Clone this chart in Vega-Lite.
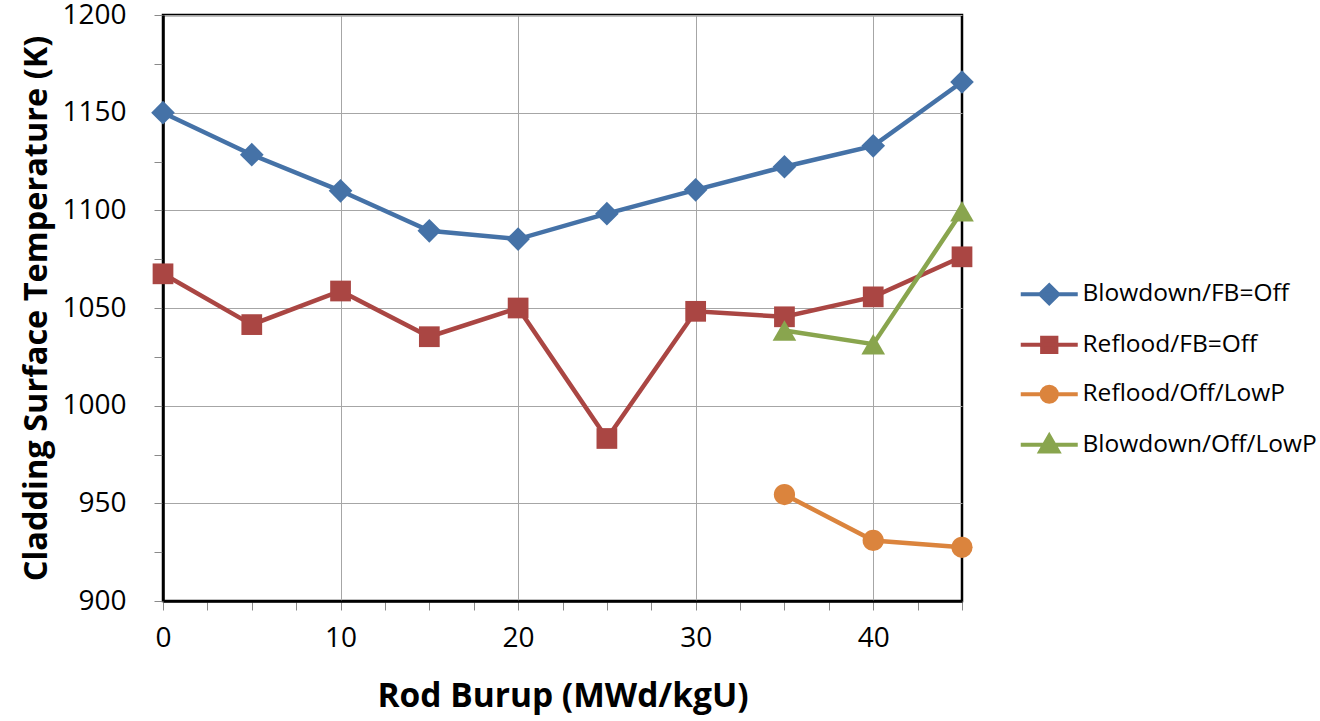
{
  "$schema": "https://vega.github.io/schema/vega-lite/v6.json",
  "autosize": {"type": "none"},
  "padding": {"left": 163, "top": 15, "right": 358, "bottom": 120},
  "width": 799,
  "height": 586,
  "config": {
    "font": "Open Sans",
    "view": {"stroke": "#000000", "strokeWidth": 2.5},
    "axis": {
      "labelFont": "Open Sans",
      "titleFont": "Open Sans",
      "labelColor": "#000000",
      "titleColor": "#000000",
      "labelFontSize": 28,
      "titleFontWeight": "bold",
      "domainColor": "#000000",
      "domainWidth": 2.5,
      "tickColor": "#8a8a8a",
      "tickWidth": 1,
      "tickSize": 9,
      "gridColor": "#a6a6a6",
      "gridWidth": 1
    }
  },
  "data": {
    "values": [
      {"series": "Blowdown/FB=Off", "burnup": 0, "temp": 1150},
      {"series": "Blowdown/FB=Off", "burnup": 5, "temp": 1128.5},
      {"series": "Blowdown/FB=Off", "burnup": 10, "temp": 1110},
      {"series": "Blowdown/FB=Off", "burnup": 15, "temp": 1089.5},
      {"series": "Blowdown/FB=Off", "burnup": 20, "temp": 1085.3},
      {"series": "Blowdown/FB=Off", "burnup": 25, "temp": 1098.3},
      {"series": "Blowdown/FB=Off", "burnup": 30, "temp": 1110.5},
      {"series": "Blowdown/FB=Off", "burnup": 35, "temp": 1122.3},
      {"series": "Blowdown/FB=Off", "burnup": 40, "temp": 1133},
      {"series": "Blowdown/FB=Off", "burnup": 45, "temp": 1165.7},
      {"series": "Reflood/FB=Off", "burnup": 0, "temp": 1067.5},
      {"series": "Reflood/FB=Off", "burnup": 5, "temp": 1041.5},
      {"series": "Reflood/FB=Off", "burnup": 10, "temp": 1058.7},
      {"series": "Reflood/FB=Off", "burnup": 15, "temp": 1035.3},
      {"series": "Reflood/FB=Off", "burnup": 20, "temp": 1050},
      {"series": "Reflood/FB=Off", "burnup": 25, "temp": 983.2},
      {"series": "Reflood/FB=Off", "burnup": 30, "temp": 1048.3},
      {"series": "Reflood/FB=Off", "burnup": 35, "temp": 1045.5},
      {"series": "Reflood/FB=Off", "burnup": 40, "temp": 1055.7},
      {"series": "Reflood/FB=Off", "burnup": 45, "temp": 1076.2},
      {"series": "Reflood/Off/LowP", "burnup": 35, "temp": 954.5},
      {"series": "Reflood/Off/LowP", "burnup": 40, "temp": 931},
      {"series": "Reflood/Off/LowP", "burnup": 45, "temp": 927.5},
      {"series": "Blowdown/Off/LowP", "burnup": 35, "temp": 1038.5},
      {"series": "Blowdown/Off/LowP", "burnup": 40, "temp": 1031.5},
      {"series": "Blowdown/Off/LowP", "burnup": 45, "temp": 1099.5}
    ]
  },
  "encoding": {
    "x": {
      "field": "burnup",
      "type": "quantitative",
      "scale": {"domain": [0, 45], "nice": false, "zero": false},
      "axis": {
        "title": "Rod Burup (MWd/kgU)",
        "titleFontSize": 33.5,
        "format": "d",
        "values": [0, 2.5, 5, 7.5, 10, 12.5, 15, 17.5, 20, 22.5, 25, 27.5, 30, 32.5, 35, 37.5, 40, 42.5, 45],
        "labelExpr": "datum.value % 10 === 0 && datum.value < 45 ? datum.label : ''",
        "gridOpacity": {"condition": {"test": "datum.value % 10 === 0", "value": 1}, "value": 0},
        "labelPadding": 14,
        "titlePadding": 28,
        "labelFlush": false
      }
    },
    "y": {
      "field": "temp",
      "type": "quantitative",
      "scale": {"domain": [900, 1200], "nice": false, "zero": false},
      "axis": {
        "title": "Cladding Surface Temperature (K)",
        "titleFontSize": 32.5,
        "format": "d",
        "values": [900, 925, 950, 975, 1000, 1025, 1050, 1075, 1100, 1125, 1150, 1175, 1200],
        "labelExpr": "datum.value % 50 === 0 ? datum.label : ''",
        "gridOpacity": {"condition": {"test": "datum.value % 50 === 0", "value": 1}, "value": 0},
        "labelPadding": 28,
        "titlePadding": 8,
        "labelFlush": false
      }
    }
  },
  "layer": [
    {
      "mark": {"type": "point", "filled": true, "opacity": 1, "size": 0, "strokeWidth": 4},
      "encoding": {
        "color": {
          "field": "series",
          "type": "nominal",
          "title": null,
          "scale": {
            "domain": ["Blowdown/FB=Off", "Reflood/FB=Off", "Reflood/Off/LowP", "Blowdown/Off/LowP"],
            "range": ["#4572A7", "#AA4643", "#DB843D", "#89A54E"]
          },
          "legend": {
            "orient": "none", "legendX": 874, "legendY": 267, "padding": 0,
            "symbolSize": 361, "symbolStrokeWidth": 4, "symbolOpacity": 1,
            "labelFont": "Open Sans", "labelFontSize": 24.5, "labelColor": "#000000",
            "labelOffset": 21, "labelLimit": 400, "rowPadding": 17.5
          }
        },
        "shape": {
          "field": "series",
          "type": "nominal",
          "title": null,
          "scale": {
            "domain": ["Blowdown/FB=Off", "Reflood/FB=Off", "Reflood/Off/LowP", "Blowdown/Off/LowP"],
            "range": [
              "M-3,0H3M-0.95,0L0,-0.95L0.95,0L0,0.95Z",
              "M-3,0H3M-0.75,-0.75H0.75V0.75H-0.75Z",
              "M-3,0H3M-0.8,0A0.8,0.8,0,1,0,0.8,0A0.8,0.8,0,1,0,-0.8,0Z",
              "M-3,0H3M0,-0.95L0.95,0.7H-0.95Z"
            ]
          },
          "legend": {
            "orient": "none", "legendX": 874, "legendY": 267, "padding": 0,
            "symbolSize": 361, "symbolStrokeWidth": 4, "symbolOpacity": 1,
            "labelFont": "Open Sans", "labelFontSize": 24.5, "labelColor": "#000000",
            "labelOffset": 21, "labelLimit": 400, "rowPadding": 17.5
          }
        }
      }
    },
    {
      "mark": {"type": "line", "strokeWidth": 4.5},
      "encoding": {
        "stroke": {
          "field": "series",
          "type": "nominal",
          "scale": {
            "domain": ["Blowdown/FB=Off", "Reflood/FB=Off", "Reflood/Off/LowP", "Blowdown/Off/LowP"],
            "range": ["#4572A7", "#AA4643", "#DB843D", "#89A54E"]
          },
          "legend": null
        },
        "detail": {"field": "series"}
      }
    },
    {
      "transform": [{"filter": "datum.series === 'Blowdown/FB=Off'"}],
      "mark": {"type": "point", "filled": true, "opacity": 1, "shape": "diamond", "size": 560, "color": "#4572A7"},
      "encoding": {}
    },
    {
      "transform": [{"filter": "datum.series === 'Reflood/FB=Off'"}],
      "mark": {"type": "point", "filled": true, "opacity": 1, "shape": "square", "size": 430, "color": "#AA4643"},
      "encoding": {}
    },
    {
      "transform": [{"filter": "datum.series === 'Reflood/Off/LowP'"}],
      "mark": {"type": "point", "filled": true, "opacity": 1, "shape": "circle", "size": 450, "color": "#DB843D"},
      "encoding": {}
    },
    {
      "transform": [{"filter": "datum.series === 'Blowdown/Off/LowP'"}],
      "mark": {"type": "point", "filled": true, "opacity": 1, "shape": "triangle-up", "size": 560, "color": "#89A54E"},
      "encoding": {}
    }
  ]
}
